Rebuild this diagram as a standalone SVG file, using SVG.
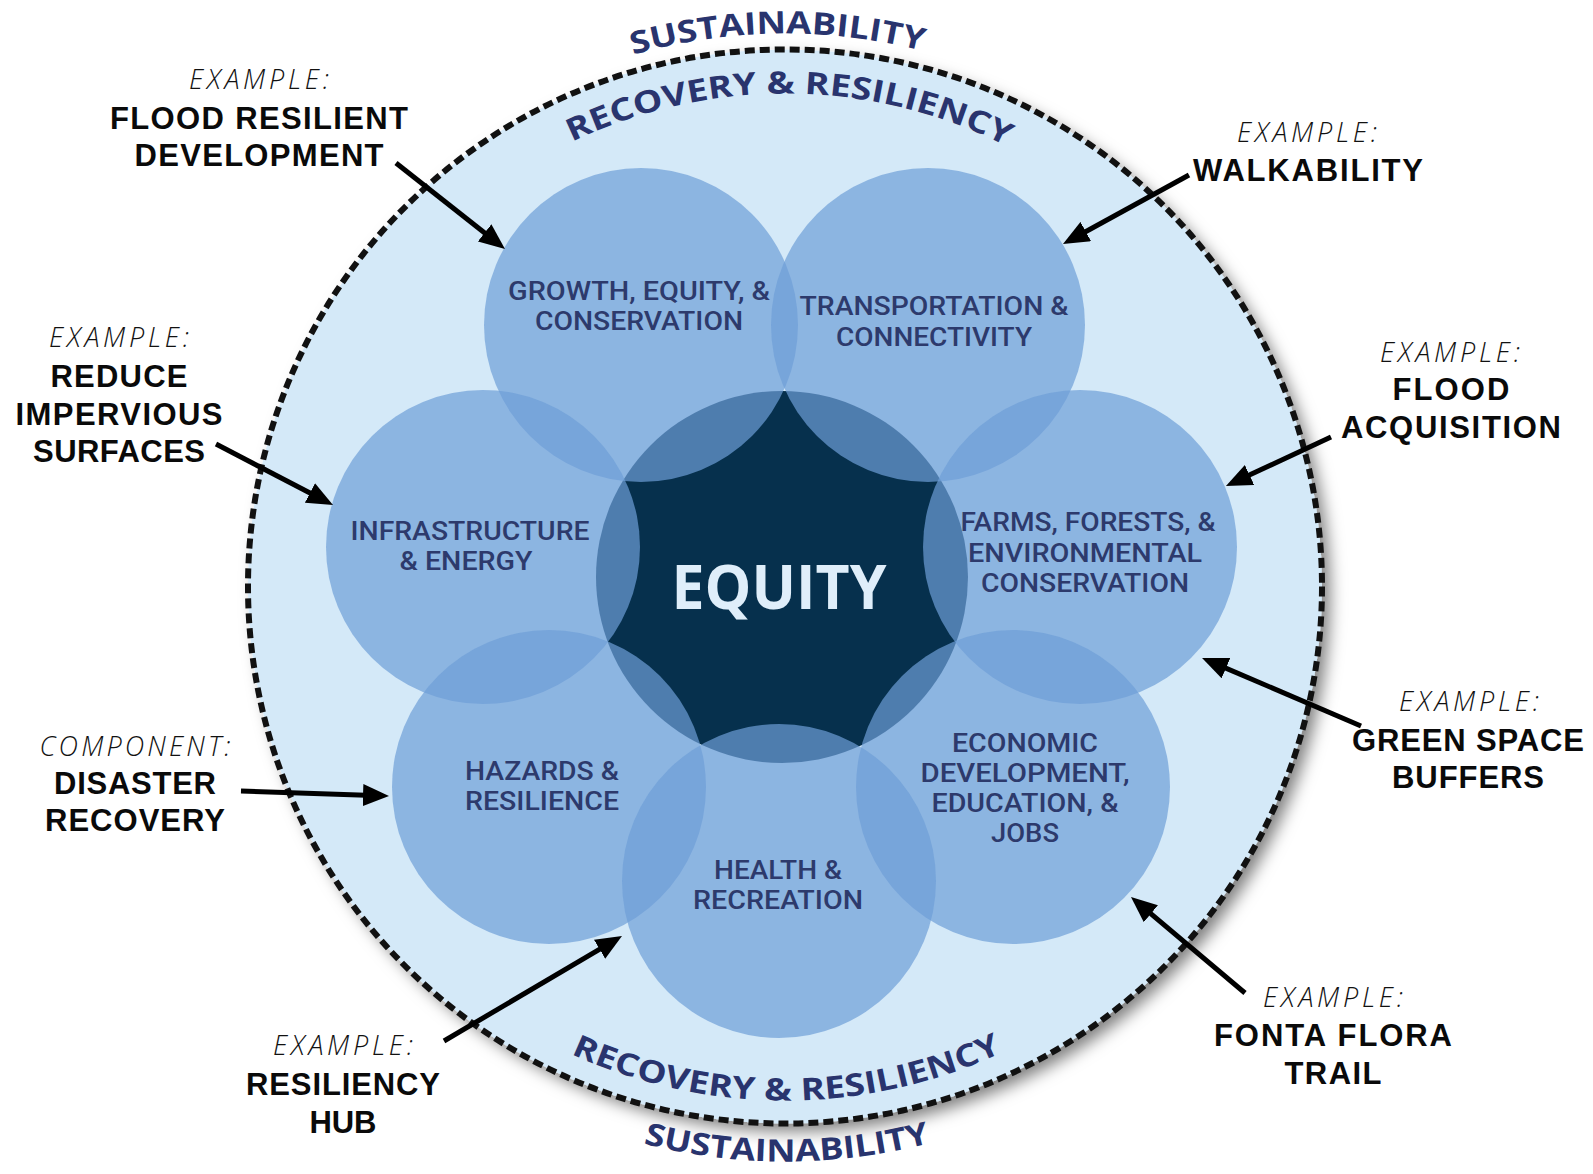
<svg xmlns="http://www.w3.org/2000/svg" xmlns:xlink="http://www.w3.org/1999/xlink" width="1593" height="1174" viewBox="0 0 1593 1174">
<defs>
  <filter id="shadow" x="-10%" y="-10%" width="125%" height="125%">
    <feDropShadow dx="8" dy="8" stdDeviation="8" flood-color="#000" flood-opacity="0.5"/>
  </filter>
  <marker id="arrow" markerUnits="userSpaceOnUse" viewBox="0 0 26 22" refX="18" refY="11" markerWidth="26" markerHeight="22" orient="auto">
    <path d="M0,0 L26,11 L0,22 z" fill="#000"/>
  </marker>
  <path id="arcTopOut" d="M232,586.5 A553,553 0 0 1 1338,586.5"/>
  <path id="arcTopIn" d="M292,586.5 A493,493 0 0 1 1278,586.5"/>
  <path id="arcBotIn" d="M271,586.5 A514,514 0 0 0 1299,586.5"/>
  <path id="arcBotOut" d="M210,586.5 A575,575 0 0 0 1360,586.5"/>
</defs>
<style>
  .petal { fill: #6d9ed7; fill-opacity: 0.7; }
  .ptxt { font-family: Roboto, "Liberation Sans", sans-serif; font-size: 25px; font-weight: 500; fill: #2d3a6c; text-anchor: middle; }
  .arc { font-family: "Open Sans", "Liberation Sans", sans-serif; font-size: 31px; font-weight: 700; fill: #29346e; }
  .ex { font-family: "Open Sans", "Liberation Sans", sans-serif; font-size: 27px; font-style: italic; font-weight: 300; fill: #111; text-anchor: middle; }
  .lb { font-family: "Liberation Sans", Arial, sans-serif; font-size: 31px; font-weight: 700; fill: #0a0a0a; text-anchor: middle; }
  .conn { stroke: #000; stroke-width: 5; fill: none; marker-end: url(#arrow); }
</style>
<rect width="1593" height="1174" fill="#ffffff"/>

<g id="ring">
  <circle cx="785" cy="586.5" r="537" fill="#d4e9f8" filter="url(#shadow)"/>
  <circle cx="785" cy="586.5" r="537" fill="none" stroke="#111" stroke-width="6" stroke-dasharray="10 5"/>
  <text class="arc"><textPath href="#arcTopOut" startOffset="861" text-anchor="middle" textLength="293" lengthAdjust="spacingAndGlyphs">SUSTAINABILITY</textPath></text>
  <text class="arc"><textPath href="#arcTopIn" startOffset="779" text-anchor="middle" textLength="450" lengthAdjust="spacingAndGlyphs">RECOVERY &amp; RESILIENCY</textPath></text>
  <text class="arc"><textPath href="#arcBotIn" startOffset="809" text-anchor="middle" textLength="445" lengthAdjust="spacingAndGlyphs">RECOVERY &amp; RESILIENCY</textPath></text>
  <text class="arc"><textPath href="#arcBotOut" startOffset="905" text-anchor="middle" textLength="290" lengthAdjust="spacingAndGlyphs">SUSTAINABILITY</textPath></text>
</g>

<g id="equity">
  <circle cx="782" cy="577" r="186" fill="#06304d"/>
</g>

<g id="growth">
  <circle class="petal" cx="641" cy="325" r="157"/>
  <text class="ptxt" x="639" y="300" textLength="262" lengthAdjust="spacingAndGlyphs">GROWTH, EQUITY, &amp;</text>
  <text class="ptxt" x="639" y="330" textLength="208" lengthAdjust="spacingAndGlyphs">CONSERVATION</text>
</g>
<g id="transportation">
  <circle class="petal" cx="928" cy="325" r="157"/>
  <text class="ptxt" x="934" y="315" textLength="269" lengthAdjust="spacingAndGlyphs">TRANSPORTATION &amp;</text>
  <text class="ptxt" x="934" y="346" textLength="196" lengthAdjust="spacingAndGlyphs">CONNECTIVITY</text>
</g>
<g id="infrastructure">
  <circle class="petal" cx="483" cy="547" r="157"/>
  <text class="ptxt" x="470" y="540" textLength="239" lengthAdjust="spacingAndGlyphs">INFRASTRUCTURE</text>
  <text class="ptxt" x="466" y="570" textLength="133" lengthAdjust="spacingAndGlyphs">&amp; ENERGY</text>
</g>
<g id="farms">
  <circle class="petal" cx="1080" cy="547" r="157"/>
  <text class="ptxt" x="1088" y="531" textLength="255" lengthAdjust="spacingAndGlyphs">FARMS, FORESTS, &amp;</text>
  <text class="ptxt" x="1085" y="562" textLength="234" lengthAdjust="spacingAndGlyphs">ENVIRONMENTAL</text>
  <text class="ptxt" x="1085" y="592" textLength="208" lengthAdjust="spacingAndGlyphs">CONSERVATION</text>
</g>
<g id="hazards">
  <circle class="petal" cx="549" cy="787" r="157"/>
  <text class="ptxt" x="542" y="780" textLength="154" lengthAdjust="spacingAndGlyphs">HAZARDS &amp;</text>
  <text class="ptxt" x="542" y="810" textLength="154" lengthAdjust="spacingAndGlyphs">RESILIENCE</text>
</g>
<g id="economic">
  <circle class="petal" cx="1013" cy="787" r="157"/>
  <text class="ptxt" x="1025" y="752" textLength="146" lengthAdjust="spacingAndGlyphs">ECONOMIC</text>
  <text class="ptxt" x="1025" y="782" textLength="209" lengthAdjust="spacingAndGlyphs">DEVELOPMENT,</text>
  <text class="ptxt" x="1025" y="812" textLength="187" lengthAdjust="spacingAndGlyphs">EDUCATION, &amp;</text>
  <text class="ptxt" x="1025" y="842" textLength="68" lengthAdjust="spacingAndGlyphs">JOBS</text>
</g>
<g id="health">
  <circle class="petal" cx="779" cy="881" r="157"/>
  <text class="ptxt" x="778" y="879" textLength="128" lengthAdjust="spacingAndGlyphs">HEALTH &amp;</text>
  <text class="ptxt" x="778" y="909" textLength="170" lengthAdjust="spacingAndGlyphs">RECREATION</text>
</g>
<g id="equity-label">
  <text x="779" y="609" font-family="'Open Sans', 'Liberation Sans', sans-serif" font-size="60" font-weight="700" fill="#dfeefa" text-anchor="middle" textLength="215" lengthAdjust="spacingAndGlyphs">EQUITY</text>
</g>

<g id="label-flood-resilient">
  <text class="ex" x="259" y="89" textLength="140">EXAMPLE:</text>
  <text class="lb" x="259" y="129" textLength="298">FLOOD RESILIENT</text>
  <text class="lb" x="259" y="166" textLength="249">DEVELOPMENT</text>
</g>
<g id="label-impervious">
  <text class="ex" x="119" y="347" textLength="140">EXAMPLE:</text>
  <text class="lb" x="119" y="387" textLength="137">REDUCE</text>
  <text class="lb" x="119" y="425" textLength="207">IMPERVIOUS</text>
  <text class="lb" x="119" y="462" textLength="172">SURFACES</text>
</g>
<g id="label-disaster">
  <text class="ex" x="135" y="756" textLength="191">COMPONENT:</text>
  <text class="lb" x="135" y="794" textLength="162">DISASTER</text>
  <text class="lb" x="135" y="831" textLength="180">RECOVERY</text>
</g>
<g id="label-hub">
  <text class="ex" x="343" y="1055" textLength="140">EXAMPLE:</text>
  <text class="lb" x="343" y="1095" textLength="194">RESILIENCY</text>
  <text class="lb" x="343" y="1133" textLength="67">HUB</text>
</g>
<g id="label-walkability">
  <text class="ex" x="1307" y="142" textLength="140">EXAMPLE:</text>
  <text class="lb" x="1308" y="181" textLength="230">WALKABILITY</text>
</g>
<g id="label-acquisition">
  <text class="ex" x="1450" y="362" textLength="140">EXAMPLE:</text>
  <text class="lb" x="1451" y="400" textLength="117">FLOOD</text>
  <text class="lb" x="1451" y="438" textLength="220">ACQUISITION</text>
</g>
<g id="label-green-space">
  <text class="ex" x="1469" y="711" textLength="140">EXAMPLE:</text>
  <text class="lb" x="1468" y="751" textLength="232">GREEN SPACE</text>
  <text class="lb" x="1468" y="788" textLength="152">BUFFERS</text>
</g>
<g id="label-fonta-flora">
  <text class="ex" x="1333" y="1007" textLength="140">EXAMPLE:</text>
  <text class="lb" x="1333" y="1046" textLength="238">FONTA FLORA</text>
  <text class="lb" x="1333" y="1084" textLength="97">TRAIL</text>
</g>

<g id="connectors">
  <line class="conn" x1="396" y1="163" x2="498.7" y2="244"/>
  <line class="conn" x1="216" y1="444" x2="325.9" y2="501.3"/>
  <line class="conn" x1="241" y1="791" x2="381" y2="795.7"/>
  <line class="conn" x1="444" y1="1041" x2="615.1" y2="940.1"/>
  <line class="conn" x1="1189" y1="175" x2="1070" y2="240.2"/>
  <line class="conn" x1="1331" y1="437" x2="1233.2" y2="482.6"/>
  <line class="conn" x1="1361" y1="726" x2="1209.4" y2="661.1"/>
  <line class="conn" x1="1245" y1="993" x2="1137.1" y2="902.2"/>
</g>
</svg>
